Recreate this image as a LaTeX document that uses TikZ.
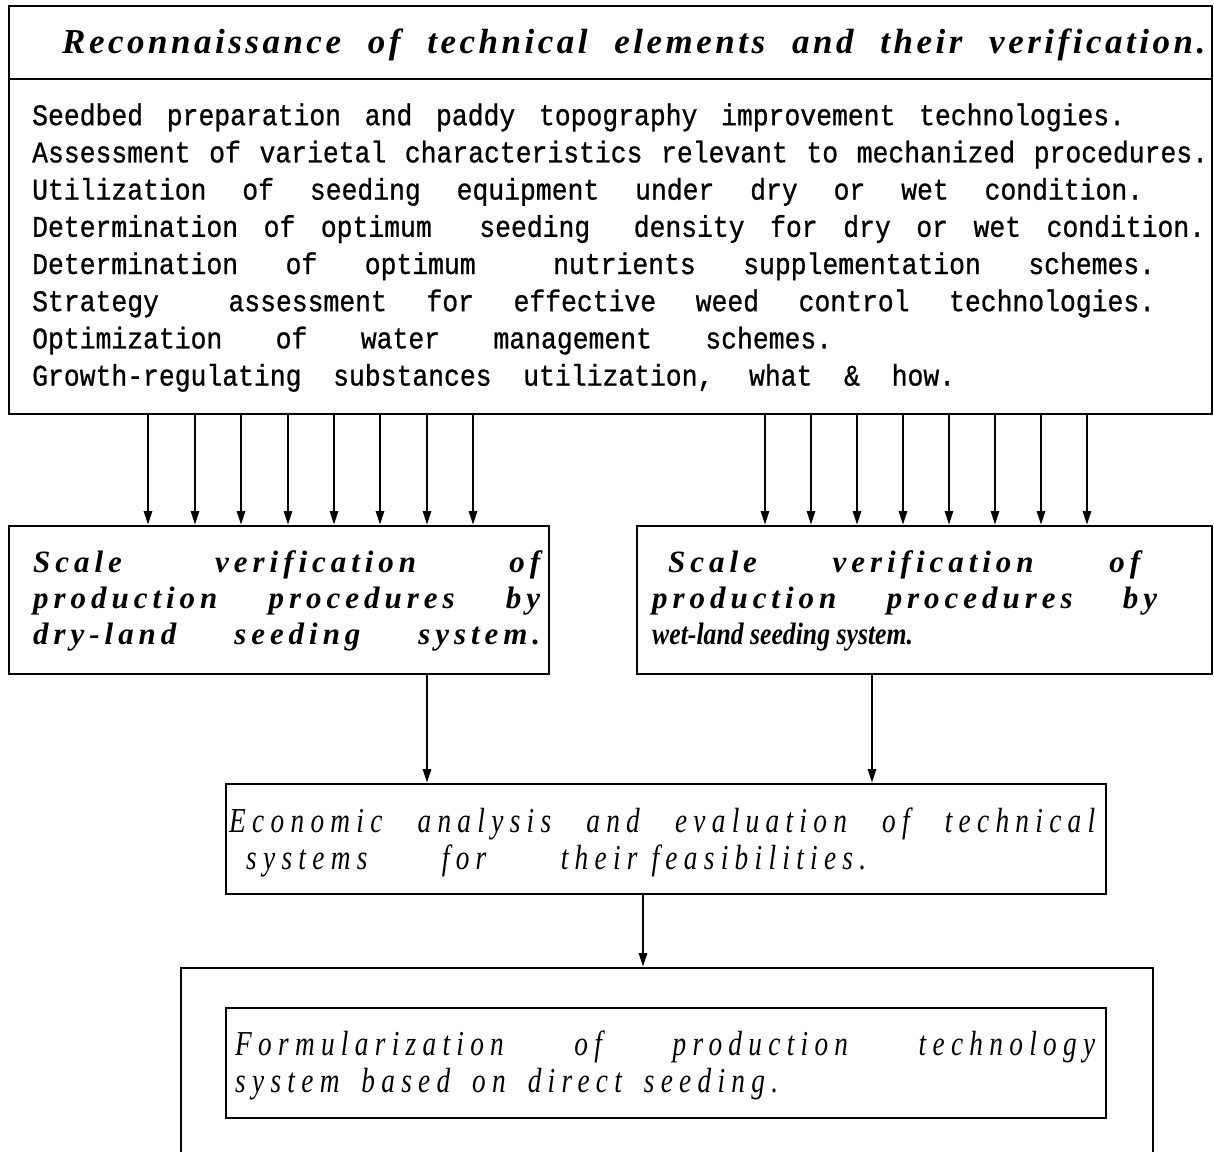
\documentclass[tikz,border=0pt]{standalone}
\usepackage{fontspec}
\usetikzlibrary{arrows.meta}
\setmainfont{Liberation Serif}
\newfontfamily\monof[FakeStretch=0.88,FakeBold=0.8]{Liberation Mono}
\newfontfamily\titlef[LetterSpace=10]{Liberation Serif}
\newfontfamily\scalef[LetterSpace=16]{Liberation Serif}
\newfontfamily\tightf[FakeStretch=0.83]{Liberation Serif}
\newfontfamily\narrowf[FakeStretch=0.78,LetterSpace=18]{Liberation Serif}
\begin{document}
\begin{tikzpicture}[x=1pt,y=-1pt,
  box/.style={draw, line width=1.6pt, inner sep=0pt, anchor=north west},
  txt/.style={inner sep=0pt, anchor=north west, align=left},
  arr/.style={line width=2.8pt, -{Triangle[width=8pt,length=14pt]}},
  itemfont/.style={font={\monof\fontsize{30}{37.2}\selectfont\spaceskip=15.84pt plus 40pt\xspaceskip=15.84pt plus 40pt}},
  titlefont/.style={font={\titlef\bfseries\itshape\fontsize{35}{36}\selectfont}},
  scalefont/.style={font={\scalef\bfseries\itshape\fontsize{31}{36}\selectfont}},
  narrowfont/.style={font={\narrowf\itshape\fontsize{35}{36.5}\selectfont}}]
\useasboundingbox (0,0) rectangle (1214,1151);
\clip (0,0) rectangle (1214,1151);
% top box
\node[box, minimum width=1203pt, minimum height=408pt] (topbox) at (8,5) {};
\draw[line width=1.6pt] ([yshift=-74pt]topbox.north west) coordinate (dl) -- ([yshift=-74pt]topbox.north east) coordinate (dr);
\node[txt, titlefont] (title) at (62,27) {\rule{0pt}{26pt}\makebox[1143pt][s]{Reconnaissance of technical elements and their verification.}};
\node[txt, itemfont] (items) at (32,100) {\rule{0pt}{25pt}\makebox[1093pt][s]{Seedbed preparation and paddy topography improvement technologies.}\\
\makebox[1176pt][s]{Assessment of varietal characteristics relevant to mechanized procedures.}\\
\makebox[1111pt][s]{Utilization of seeding equipment under dry or wet condition.}\\
\makebox[1173pt][s]{Determination of optimum \hspace{22pt}seeding \hspace{18pt}density for dry or wet condition.}\\
\makebox[1123pt][s]{Determination of optimum \hspace{30pt}nutrients supplementation schemes.}\\
\makebox[1123pt][s]{Strategy \hspace{30pt}assessment for effective weed control technologies.}\\
\makebox[800pt][s]{Optimization of water management schemes.}\\
\makebox[923pt][s]{Growth-regulating substances utilization, what \& how.}};
% second row boxes
\node[box, minimum width=540pt, minimum height=148pt] (dry) at (8,525) {};
\node[box, minimum width=575pt, minimum height=148pt] (wet) at (636,525) {};
\node[txt, scalefont] (drytext) at (33,550) {\rule{0pt}{22pt}\makebox[507pt][s]{Scale verification of}\\
\makebox[507pt][s]{production procedures by}\\
\makebox[507pt][s]{dry-land seeding system.}};
\node[txt, scalefont] (wettext) at (652,550) {\rule{0pt}{22pt}\hspace*{16pt}\makebox[472pt][s]{Scale verification of}\\
\makebox[505pt][s]{production procedures by}\\
{\tightf\bfseries\itshape wet-land seeding system.}};
% arrows from top box
\foreach \d in {140,187,233,280,326,372,419,465}
  \draw[arr] ([xshift=\d pt]topbox.south west) -- ([xshift=\d pt]dry.north west);
\foreach \d in {129,175,221,267,313,359,405,451}
  \draw[arr] ([xshift=\d pt+628pt]topbox.south west) -- ([xshift=\d pt]wet.north west);
% economic box
\node[box, minimum width=880pt, minimum height=110pt] (econ) at (225,783) {};
\node[txt, narrowfont] (econtext) at (229,808) {\rule{0pt}{24pt}\makebox[866pt][s]{Economic analysis and evaluation of technical}\\
\hspace*{17pt}\makebox[620pt][s]{systems for their\hspace{14pt}feasibilities.}};
\draw[arr] ([xshift=419pt]dry.south west) -- ([xshift=202pt]econ.north west);
\draw[arr] ([xshift=236pt]wet.south west) -- ([xshift=647pt]econ.north west);
% final boxes
\node[box, minimum width=972pt, minimum height=260pt] (outer) at (180,967) {};
\node[box, minimum width=880pt, minimum height=110pt] (inner) at (225,1007) {};
\node[txt, narrowfont] (formtext) at (235,1031) {\rule{0pt}{24pt}\makebox[860pt][s]{Formularization of production technology}\\
\makebox[543pt][s]{system based on direct seeding.}};
\draw[arr] ([xshift=418pt]econ.south west) -- ([xshift=463pt]outer.north west);
\end{tikzpicture}
\end{document}
